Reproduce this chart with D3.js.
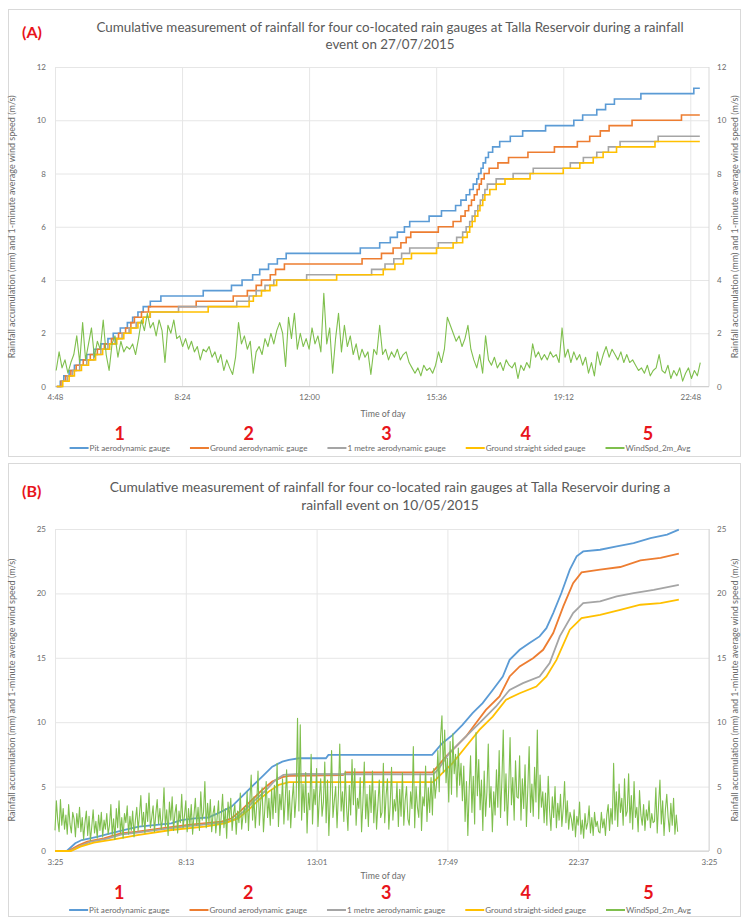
<!DOCTYPE html>
<html>
<head>
<meta charset="utf-8">
<script src="https://cdn.jsdelivr.net/npm/d3@7"></script>
<style>
  body { margin: 0; background: #fff; }
  text { font-family: Lato, "Open Sans", sans-serif; }
</style>
</head>
<body>
<div id="chart"></div>
<script>
// ---- Data ----
// times are decimal hours of the day, values in mm (gauges) or m/s (wind)

const namesA = ["Pit aerodynamic gauge", "Ground aerodynamic gauge", "1 metre aerodynamic gauge", "Ground straight sided gauge", "WindSpd_2m_Avg"];
const namesB = ["Pit aerodynamic gauge", "Ground aerodynamic gauge", "1 metre aerodynamic gauge", "Ground straight-sided gauge", "WindSpd_2m_Avg"];
const markers = ["1", "2", "3", "4", "5"];
const colors = ["#5b9bd5", "#ed7d31", "#a5a5a5", "#ffc000", "#7fbf4d"];

const ticksA = ["4:48", "8:24", "12:00", "15:36", "19:12", "22:48"];
const ticksB = ["3:25", "8:13", "13:01", "17:49", "22:37", "3:25"];
const yTicksA = [0, 2, 4, 6, 8, 10, 12];
const yTicksB = [0, 5, 10, 15, 20, 25];

// Panel A - 27/07/2015 (tipping bucket steps)
const pitA = [[4.85,0],[4.95,0.2],[5.05,0.4],[5.2,0.6],[5.35,0.8],[5.5,1.0],[5.7,1.2],[5.9,1.4],[6.1,1.6],[6.3,1.8],[6.45,2.0],[6.65,2.2],[6.85,2.4],[7.0,2.6],[7.15,2.8],[7.3,3.0],[7.5,3.2],[7.8,3.4],[9.0,3.6],[9.8,3.8],[10.1,4.0],[10.4,4.2],[10.6,4.4],[10.85,4.6],[11.1,4.8],[11.35,5.0],[13.45,5.2],[14.0,5.4],[14.3,5.6],[14.5,5.8],[14.7,6.0],[14.85,6.2],[15.4,6.4],[15.75,6.6],[16.15,6.8],[16.3,7.0],[16.45,7.2],[16.55,7.4],[16.65,7.6],[16.75,7.8],[16.8,8.0],[16.87,8.2],[16.93,8.4],[17.0,8.6],[17.08,8.8],[17.2,9.0],[17.4,9.2],[17.7,9.4],[18.05,9.6],[18.7,9.8],[19.5,10.0],[19.75,10.2],[20.15,10.4],[20.4,10.6],[20.65,10.8],[21.4,11.0],[22.9,11.2],[23.07,11.2]];
const groundA = [[4.85,0],[4.97,0.2],[5.1,0.4],[5.25,0.6],[5.4,0.8],[5.6,1.0],[5.8,1.2],[6.0,1.4],[6.2,1.6],[6.4,1.8],[6.6,2.0],[6.8,2.2],[6.95,2.4],[7.05,2.6],[7.25,2.8],[7.45,3.0],[8.8,3.2],[9.85,3.4],[10.25,3.6],[10.5,3.8],[10.65,4.0],[10.9,4.2],[11.05,4.4],[11.3,4.6],[13.5,4.8],[14.05,5.0],[14.38,5.2],[14.6,5.4],[14.75,5.6],[14.88,5.8],[15.66,6.0],[16.08,6.2],[16.3,6.4],[16.42,6.6],[16.52,6.8],[16.6,7.0],[16.68,7.2],[16.76,7.4],[16.82,7.6],[16.88,7.8],[16.96,8.0],[17.1,8.2],[17.35,8.4],[17.65,8.6],[18.2,8.8],[18.95,9.0],[19.6,9.2],[19.95,9.4],[20.25,9.6],[20.5,9.8],[21.15,10.0],[22.55,10.2],[23.07,10.2]];
const metreA = [[4.85,0],[5.0,0.2],[5.15,0.4],[5.3,0.6],[5.5,0.8],[5.7,1.0],[5.9,1.2],[6.1,1.4],[6.3,1.6],[6.5,1.8],[6.7,2.0],[6.9,2.2],[7.1,2.4],[7.3,2.6],[7.5,2.8],[8.3,3.0],[9.95,3.2],[10.3,3.4],[10.5,3.6],[10.75,3.8],[11.0,4.0],[11.93,4.2],[13.77,4.4],[14.15,4.6],[14.4,4.8],[14.62,5.0],[14.85,5.2],[15.66,5.4],[16.18,5.6],[16.35,5.8],[16.45,6.0],[16.55,6.2],[16.62,6.4],[16.7,6.6],[16.78,6.8],[16.85,7.0],[16.92,7.2],[16.98,7.4],[17.05,7.6],[17.3,7.8],[17.78,8.0],[18.35,8.2],[19.4,8.4],[19.77,8.6],[20.15,8.8],[20.48,9.0],[20.81,9.2],[21.89,9.4],[23.07,9.4]];
const straightA = [[4.85,0],[5.02,0.2],[5.2,0.4],[5.35,0.6],[5.55,0.8],[5.75,1.0],[5.95,1.2],[6.15,1.4],[6.35,1.6],[6.55,1.8],[6.75,2.0],[6.95,2.2],[7.15,2.4],[7.3,2.6],[7.49,2.8],[9.14,3.0],[10.3,3.2],[10.42,3.4],[10.65,3.6],[10.89,3.8],[11.08,4.0],[12.78,4.2],[14.1,4.4],[14.43,4.6],[14.67,4.8],[14.9,5.0],[15.61,5.2],[16.08,5.4],[16.35,5.6],[16.48,5.8],[16.55,6.0],[16.62,6.2],[16.7,6.4],[16.78,6.6],[16.84,6.8],[16.92,7.0],[16.98,7.2],[17.12,7.4],[17.3,7.6],[17.55,7.8],[18.26,8.0],[19.2,8.2],[19.67,8.4],[20.05,8.6],[20.33,8.8],[20.71,9.0],[21.8,9.2],[23.07,9.2]];

// 5-minute wind speed from 4:50
const windStartA = 4.833;
const windStepA = 5 / 60;
const windA = [
  0.6,1.3,
  0.7,1.0,0.5,0.9,1.2,1.9,0.9,2.4,1.0,1.6,2.2,1.1,
  1.7,1.4,2.5,1.2,0.6,1.6,1.9,1.1,1.7,1.3,1.5,1.4,
  1.6,1.2,1.8,2.5,2.1,2.75,2.2,2.4,1.9,2.5,2.1,0.9,
  2.3,2.0,2.5,1.8,1.9,1.5,1.8,1.4,1.7,1.3,1.5,1.0,
  1.4,1.3,1.5,1.1,1.3,0.9,1.2,0.6,1.0,0.7,0.45,1.1,
  2.4,1.6,1.9,1.4,1.7,0.5,1.3,1.5,1.2,1.8,1.5,2.0,
  1.6,2.1,2.4,2.0,0.75,2.6,1.8,2.75,1.4,2.0,1.5,1.8,
  1.4,2.2,1.6,1.9,1.3,3.5,1.6,2.2,0.5,1.8,2.75,1.3,
  2.3,1.5,1.9,1.2,1.6,1.0,1.4,1.1,1.3,0.45,1.4,1.2,
  2.3,1.2,1.4,1.0,1.3,1.1,1.4,1.0,1.2,1.3,0.9,0.7,
  0.5,0.7,0.4,0.8,0.6,0.7,0.5,0.8,1.3,0.9,1.4,2.6,
  2.3,2.0,1.7,1.9,1.5,1.8,2.3,1.4,1.0,0.7,1.2,0.5,
  1.9,1.0,0.8,1.1,0.7,0.9,0.6,1.0,0.8,0.7,0.9,0.3,
  0.8,0.6,0.9,0.7,1.6,1.1,1.3,1.0,1.2,1.0,1.3,1.1,
  1.2,0.9,2.2,1.1,1.4,0.9,1.3,1.0,1.2,0.8,1.1,0.5,
  0.9,0.4,1.3,0.8,1.2,1.5,1.1,1.4,1.2,1.0,1.3,0.9,
  1.2,0.9,1.0,0.8,0.6,0.7,0.5,0.8,0.4,0.6,0.7,1.2,
  0.6,0.5,0.8,0.3,0.6,0.4,0.7,0.2,0.5,0.7,0.3,0.6,
  0.4,0.9
];

// Panel B - 10/05/2015 (hours past midnight continue above 24)
const pitB = [[3.42,0],[3.85,0],[4.16,0.6],[4.4,0.85],[4.96,1.1],[5.45,1.37],[6.2,1.76],[6.5,1.9],[7.68,2.15],[8.05,2.4],[8.54,2.54],[9.04,2.6],[9.53,3.06],[9.9,3.45],[10.27,4.22],[10.64,5.0],[11.02,5.78],[11.39,6.55],[11.76,6.94],[12.0,7.07],[12.37,7.2],[13.36,7.2],[13.45,7.46],[17.26,7.46],[17.63,8.37],[18.0,9.0],[18.37,9.8],[18.74,10.7],[19.11,11.48],[19.48,12.5],[19.85,13.55],[20.1,14.84],[20.47,15.62],[20.83,16.14],[21.2,16.66],[21.45,17.3],[21.7,18.47],[22.0,20.03],[22.31,21.84],[22.56,22.88],[22.8,23.26],[23.42,23.39],[24.03,23.65],[24.65,23.91],[25.27,24.3],[25.88,24.56],[26.31,24.95]];
const groundB = [[3.42,0],[3.9,0],[4.3,0.47],[4.6,0.73],[5.21,0.98],[5.83,1.37],[6.44,1.5],[7.31,1.76],[8.3,2.02],[9.53,2.28],[9.9,2.54],[10.27,3.19],[10.64,3.96],[11.02,4.74],[11.39,5.39],[11.76,5.73],[12.0,5.83],[13.98,5.9],[14.1,6.1],[17.26,6.1],[17.45,6.55],[17.76,7.33],[18.13,8.11],[18.5,8.89],[18.86,9.92],[19.23,10.96],[19.73,12.0],[20.1,13.55],[20.47,14.33],[20.96,14.97],[21.33,15.62],[21.7,16.92],[22.07,18.99],[22.43,20.8],[22.74,21.63],[23.42,21.84],[24.16,22.05],[24.9,22.56],[25.64,22.75],[26.31,23.08]];
const metreB = [[3.42,0],[3.95,0],[4.35,0.4],[4.7,0.7],[5.3,0.95],[5.9,1.3],[6.5,1.45],[7.4,1.7],[8.4,1.95],[9.6,2.2],[10.0,2.45],[10.35,3.1],[10.7,3.85],[11.1,4.6],[11.51,5.52],[11.8,5.91],[12.37,5.98],[17.3,5.95],[17.5,6.4],[17.88,7.59],[18.25,8.37],[18.62,9.15],[19.11,10.18],[19.6,11.22],[20.1,12.51],[20.59,13.03],[21.2,13.55],[21.57,14.59],[21.94,16.66],[22.43,18.47],[22.8,19.25],[23.42,19.38],[24.03,19.77],[24.65,20.03],[25.39,20.28],[26.31,20.67]];
const straightB = [[3.42,0],[4.0,0],[4.35,0.34],[4.84,0.65],[5.58,0.91],[6.44,1.24],[7.68,1.63],[8.91,1.89],[9.65,2.15],[10.15,2.54],[10.52,3.19],[10.89,3.96],[11.26,4.61],[11.63,5.13],[12.0,5.34],[17.3,5.34],[17.63,6.04],[18.0,6.81],[18.5,8.11],[18.99,9.4],[19.48,10.44],[19.97,11.74],[20.47,12.25],[21.08,12.77],[21.45,13.55],[21.82,14.84],[22.31,17.18],[22.74,18.08],[23.42,18.34],[24.16,18.73],[24.9,19.12],[25.64,19.25],[26.31,19.51]];

// 3-minute wind speed from 3:25, one row per hour
const windStartB = 3.417;
const windStepB = 3 / 60;
const windB = [
  1.6,3.9,2.4,1.5,4.0,2.0,3.3,1.7,2.8,1.3,3.6,2.1,1.4,3.0,2.5,1.1,2.9,1.8,3.4,1.5,
  2.6,0.9,2.2,3.1,1.2,2.7,0.8,1.9,3.2,1.4,2.3,1.0,2.8,1.6,3.0,1.1,2.4,1.7,2.9,1.3,
  2.0,3.6,1.2,2.5,0.9,3.3,1.8,3.9,1.4,2.6,1.0,2.9,2.2,3.5,1.3,2.7,1.6,3.1,1.1,2.4,
  3.4,1.6,2.8,4.3,1.9,3.0,1.4,3.7,2.3,4.5,1.8,2.6,3.5,1.5,2.9,4.0,2.1,3.3,1.7,2.5,
  4.9,1.9,3.2,1.2,3.8,2.4,4.2,1.6,2.9,3.6,1.4,3.1,2.2,4.4,1.8,2.7,3.9,1.5,3.3,2.0,
  3.6,1.3,2.8,4.1,2.0,3.4,1.6,4.6,2.4,3.0,5.4,1.8,3.7,2.2,4.0,1.5,2.9,3.5,1.4,2.6,
  3.9,1.2,2.7,4.4,1.8,3.3,1.0,3.8,2.5,4.1,1.6,2.9,3.6,1.3,3.1,2.2,4.5,1.7,2.8,3.4,
  2.2,4.6,1.6,3.9,5.9,2.4,4.2,1.8,3.5,6.2,2.0,3.8,4.9,1.5,3.3,5.4,2.6,4.1,2.0,4.8,
  2.5,5.1,3.0,6.8,1.9,4.4,3.2,5.6,2.1,4.0,6.3,2.4,4.7,1.8,3.9,5.3,2.6,4.2,10.3,3.1,
  9.8,2.4,5.2,3.0,6.1,1.4,4.5,3.2,7.5,2.1,4.8,3.6,6.4,1.9,4.1,5.6,2.7,3.8,6.9,2.2,
  5.5,1.2,4.2,7.8,2.6,3.9,5.0,1.8,4.4,8.3,3.1,4.6,2.3,6.2,3.4,1.6,5.1,2.8,7.1,3.6,
  6.4,2.0,4.1,3.3,5.7,1.5,3.8,6.9,2.5,4.4,1.9,5.1,3.0,6.2,2.2,4.7,1.7,3.6,5.5,2.6,
  3.0,6.8,2.2,4.3,5.6,1.7,3.6,6.5,2.4,4.0,3.1,5.3,1.9,4.8,2.7,6.1,2.0,3.9,5.0,2.5,
  2.0,4.6,3.3,8.1,1.8,5.0,3.4,2.6,6.0,1.6,4.2,3.5,6.6,2.3,4.9,3.0,5.7,2.8,6.4,4.1,
  5.2,7.8,4.6,8.9,10.5,6.1,9.4,5.3,7.2,3.8,8.5,4.4,9.1,6.0,7.5,4.2,8.0,5.1,6.8,3.9,
  6.6,2.3,5.4,1.2,4.8,7.4,3.0,5.8,2.1,9.2,4.3,7.1,3.2,5.5,1.6,6.2,2.7,4.6,8.3,3.4,
  5.0,1.5,4.6,2.8,6.3,3.4,7.8,2.6,5.5,9.4,3.1,6.0,2.0,4.9,8.8,3.6,5.7,2.4,7.0,4.2,
  4.1,7.4,2.4,5.6,3.3,6.7,1.9,4.8,8.1,3.0,5.2,2.7,6.5,3.8,9.4,2.5,5.9,3.4,4.6,2.2,
  4.5,2.0,5.8,3.1,1.6,4.2,2.6,5.0,1.8,3.7,2.4,4.4,1.9,3.3,5.4,2.2,3.9,1.7,3.0,2.5,
  1.6,3.2,1.1,2.7,2.0,3.8,1.3,2.4,1.0,2.9,1.7,2.2,3.5,1.4,2.6,1.2,3.0,1.9,2.3,1.5,
  1.4,3.0,1.8,2.5,1.2,2.8,3.6,1.6,3.3,2.1,6.8,2.4,4.6,1.9,5.2,3.0,4.1,2.0,5.6,2.7,
  3.1,6.0,2.2,4.3,1.7,5.4,2.6,3.4,1.5,4.7,2.8,2.0,3.6,1.6,3.2,2.4,3.9,1.8,2.9,2.2,
  2.3,4.9,1.4,3.6,5.5,2.1,3.9,1.2,3.2,4.4,2.6,1.5,3.7,2.0,4.1,1.3,2.8,1.5
];

// ---- Layout ----
const width = 745;
const height = 918;
const plotLeft = 55;
const plotRight = 709;

// "H:MM" labels -> decimal hours, rolling past midnight when the clock goes back
function labelHours(labels) {
    let prev = -1, out = [];
    labels.forEach(l => {
        const [h, m] = l.split(":").map(Number);
        let v = h + m / 60;
        while (v < prev) v += 24;
        out.push(v);
        prev = v;
    });
    return out;
}

const svg = d3.select("#chart")
    .append("svg")
    .attr("width", width)
    .attr("height", height)
    .style("display", "block");

function drawPanel(p) {
    const g = svg.append("g");

    g.append("rect")
        .attr("x", 8.5).attr("y", p.boxTop + 0.5)
        .attr("width", 732).attr("height", p.boxBottom - p.boxTop)
        .attr("fill", "#fff").attr("stroke", "#d9d9d9");

    // title
    g.append("text")
        .attr("x", 22).attr("y", p.letterY)
        .attr("fill", "#e8141b").attr("font-size", 16).attr("font-weight", "bold")
        .text(p.letter);
    p.title.forEach((t, i) => {
        g.append("text")
            .attr("x", 390).attr("y", p.titleY + i * p.titleGap)
            .attr("text-anchor", "middle")
            .attr("fill", "#595959").attr("font-size", p.titleSize)
            .text(t);
    });

    const tickHours = labelHours(p.ticks);
    const x = d3.scaleLinear().domain(p.tDomain).range([plotLeft, plotRight]);
    const y = d3.scaleLinear().domain([0, p.yMax]).range([p.plotBottom, p.plotTop]);

    // grid
    g.append("g")
        .attr("transform", `translate(${plotLeft},0)`)
        .call(d3.axisLeft(y).tickValues(p.yTicks).tickSize(-(plotRight - plotLeft)).tickFormat(""))
        .call(a => a.select(".domain").remove())
        .call(a => a.selectAll("line").attr("stroke", "#e6e6e6"));
    g.append("g")
        .attr("transform", `translate(0,${p.plotBottom})`)
        .call(d3.axisBottom(x).tickValues(tickHours).tickSize(-(p.plotBottom - p.plotTop)).tickFormat(""))
        .call(a => a.select(".domain").remove())
        .call(a => a.selectAll("line").attr("stroke", "#e6e6e6"));
    g.append("line")
        .attr("x1", plotRight).attr("x2", plotRight)
        .attr("y1", p.plotTop).attr("y2", p.plotBottom)
        .attr("stroke", "#d9d9d9");
    g.append("line")
        .attr("x1", plotLeft).attr("x2", plotRight)
        .attr("y1", p.plotBottom).attr("y2", p.plotBottom)
        .attr("stroke", "#d0d0d0");

    // axes labels
    const styleAxis = a => {
        a.select(".domain").remove();
        a.selectAll("text").attr("fill", "#6b6b6b").attr("font-size", 8)
            .attr("font-family", "Lato, sans-serif");
    };
    g.append("g")
        .attr("transform", `translate(${plotLeft},0)`)
        .call(d3.axisLeft(y).tickValues(p.yTicks).tickSize(0).tickPadding(9))
        .call(styleAxis);
    g.append("g")
        .attr("transform", `translate(${plotRight},0)`)
        .call(d3.axisRight(y).tickValues(p.yTicks).tickSize(0).tickPadding(8))
        .call(styleAxis);
    g.append("g")
        .attr("transform", `translate(0,${p.plotBottom})`)
        .call(d3.axisBottom(x).tickValues(tickHours).tickFormat((d, i) => p.ticks[i]).tickSize(0).tickPadding(8))
        .call(styleAxis);

    const yTitle = "Rainfall accumulation (mm) and  1-minute average wind speed (m/s)";
    const midY = (p.plotTop + p.plotBottom) / 2;
    [15, 738].forEach(xx => {
        g.append("text")
            .attr("transform", `translate(${xx},${midY}) rotate(-90)`)
            .attr("text-anchor", "middle")
            .attr("fill", "#6b6b6b").attr("font-size", 9)
            .text(yTitle);
    });
    g.append("text")
        .attr("x", 383).attr("y", p.xTitleY)
        .attr("text-anchor", "middle")
        .attr("fill", "#6b6b6b").attr("font-size", 8.8)
        .text("Time of day");

    // series
    const gaugeLine = d3.line()
        .curve(p.curve)
        .x(d => x(d[0]))
        .y(d => y(d[1]));
    p.gauges.forEach((s, i) => {
        g.append("path")
            .datum(s)
            .attr("fill", "none")
            .attr("stroke", colors[i])
            .attr("stroke-width", p.lineWidth)
            .attr("d", gaugeLine);
    });
    const windLine = d3.line()
        .x((d, i) => x(p.windStart + i * p.windStep))
        .y(d => y(d));
    g.append("path")
        .datum(p.wind)
        .attr("fill", "none")
        .attr("stroke", colors[4])
        .attr("stroke-width", 1.1)
        .attr("stroke-linejoin", "round")
        .attr("d", windLine);

    // legend, with the red item numbers above each entry
    const leg = g.append("g");
    const sw = 19;
    const items = p.names.map((n, i) => {
        const it = leg.append("g");
        it.append("line")
            .attr("x1", 0).attr("x2", sw)
            .attr("y1", 0).attr("y2", 0)
            .attr("stroke", colors[i]).attr("stroke-width", 2);
        const t = it.append("text")
            .attr("x", sw + 1).attr("y", 2.8)
            .attr("fill", "#6b6b6b").attr("font-size", 8.1)
            .text(n);
        return {it, w: sw + 1 + t.node().getComputedTextLength()};
    });
    const gap = 20;
    const total = d3.sum(items, d => d.w) + gap * (items.length - 1);
    let cx = 380 - total / 2;
    items.forEach((d, i) => {
        d.it.attr("transform", `translate(${cx},${p.legendY})`);
        g.append("text")
            .attr("x", cx + d.w / 2).attr("y", p.markerY)
            .attr("text-anchor", "middle")
            .attr("fill", "#e8141b").attr("font-size", 18).attr("font-weight", "bold")
            .attr("font-family", "'Liberation Sans Narrow', 'Liberation Sans', sans-serif")
            .text(markers[i]);
        cx += d.w + gap;
    });
}

drawPanel({
    boxTop: 9, boxBottom: 456,
    letter: "(A)", letterY: 38,
    title: ["Cumulative measurement of rainfall for four co-located rain gauges at Talla Reservoir during a rainfall",
            "event on 27/07/2015"],
    titleY: 32, titleGap: 17, titleSize: 13.4,
    ticks: ticksA, tDomain: [4.8, 23.33],
    yMax: 12, yTicks: yTicksA,
    plotTop: 67, plotBottom: 386.5,
    xTitleY: 417, markerY: 440, legendY: 448,
    gauges: [pitA, groundA, metreA, straightA],
    curve: d3.curveStepAfter, lineWidth: 1.6,
    windStart: windStartA, windStep: windStepA, wind: windA,
    names: namesA
});

drawPanel({
    boxTop: 463, boxBottom: 916,
    letter: "(B)", letterY: 497,
    title: ["Cumulative measurement of rainfall for four co-located rain gauges at Talla Reservoir during a",
            "rainfall event on 10/05/2015"],
    titleY: 492, titleGap: 18, titleSize: 13.8,
    ticks: ticksB, tDomain: [3.417, 27.417],
    yMax: 25, yTicks: yTicksB,
    plotTop: 529, plotBottom: 851,
    xTitleY: 879, markerY: 899, legendY: 910,
    gauges: [pitB, groundB, metreB, straightB],
    curve: d3.curveLinear, lineWidth: 1.8,
    windStart: windStartB, windStep: windStepB, wind: windB,
    names: namesB
});
</script>
</body>
</html>
